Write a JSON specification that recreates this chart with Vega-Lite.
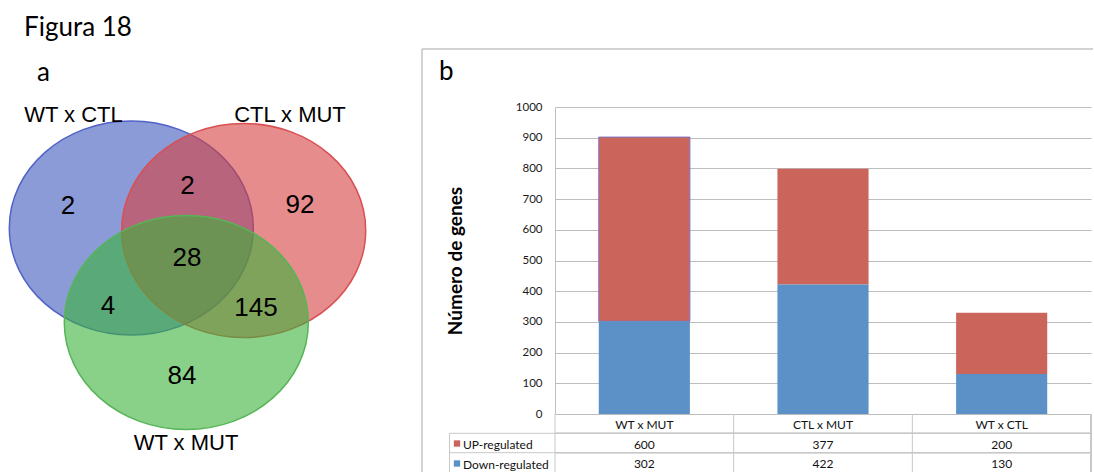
{
  "$schema": "https://vega.github.io/schema/vega-lite/v6.json",
  "background": "white",
  "padding": 0,
  "spacing": 0,
  "bounds": "flush",
  "config": {"view": {"stroke": null}, "font": "Lato"},
  "datasets": {
    "genes": [
      {"cmp": "WT x MUT", "reg": "UP-regulated", "n": 600},
      {"cmp": "WT x MUT", "reg": "Down-regulated", "n": 302},
      {"cmp": "CTL x MUT", "reg": "UP-regulated", "n": 377},
      {"cmp": "CTL x MUT", "reg": "Down-regulated", "n": 422},
      {"cmp": "WT x CTL", "reg": "UP-regulated", "n": 200},
      {"cmp": "WT x CTL", "reg": "Down-regulated", "n": 130}
    ],
    "venn_sets": [
      {"set": "WT x CTL", "cx": 131.3, "cy": 228, "lx": 73.5, "ly": 122},
      {"set": "CTL x MUT", "cx": 243.7, "cy": 230.5, "lx": 290, "ly": 122},
      {"set": "WT x MUT", "cx": 186.3, "cy": 322.5, "lx": 186, "ly": 450}
    ],
    "venn_regions": [
      {"region": "WT x CTL only", "n": 2, "vx": 68, "vy": 214},
      {"region": "WT x CTL & CTL x MUT", "n": 2, "vx": 187.5, "vy": 194},
      {"region": "CTL x MUT only", "n": 92, "vx": 300, "vy": 213},
      {"region": "all three", "n": 28, "vx": 187, "vy": 266},
      {"region": "WT x CTL & WT x MUT", "n": 4, "vx": 108, "vy": 314},
      {"region": "CTL x MUT & WT x MUT", "n": 145, "vx": 256, "vy": 316},
      {"region": "WT x MUT only", "n": 84, "vx": 182, "vy": 384}
    ]
  },
  "hconcat": [
    {
      "width": 555,
      "height": 472,
      "layer": [
        {
          "data": {"values": [{}]},
          "mark": {"type": "rule", "color": "#c4c4c4", "strokeWidth": 1.5},
          "encoding": {
            "x": {"datum": 422, "type": "quantitative", "scale": {"domain": [0, 555], "nice": false, "zero": false}, "axis": null},
            "x2": {"datum": 1093},
            "y": {"datum": 49, "type": "quantitative", "scale": {"domain": [0, 472], "reverse": true, "nice": false, "zero": false}, "axis": null}
          }
        },
        {
          "data": {"values": [{}]},
          "mark": {"type": "rule", "color": "#c4c4c4", "strokeWidth": 1.5},
          "encoding": {
            "x": {"datum": 422, "type": "quantitative", "axis": null},
            "y": {"datum": 49, "type": "quantitative", "axis": null},
            "y2": {"datum": 472}
          }
        },
        {
          "data": {"name": "venn_sets"},
          "mark": {"type": "point", "shape": "M-1,0A1,0.877,0,1,1,1,0A1,0.877,0,1,1,-1,0Z", "size": 59536, "filled": true, "opacity": 1, "fillOpacity": 0.6, "strokeOpacity": 1, "strokeWidth": 1.5},
          "encoding": {
            "x": {"field": "cx", "type": "quantitative", "axis": null},
            "y": {"field": "cy", "type": "quantitative", "axis": null},
            "fill": {"field": "set", "type": "nominal", "scale": {"domain": ["WT x CTL", "CTL x MUT", "WT x MUT"], "range": ["#3d58bd", "#d53f3f", "#3ab23a"]}, "legend": null},
            "stroke": {"field": "set", "type": "nominal", "scale": {"domain": ["WT x CTL", "CTL x MUT", "WT x MUT"], "range": ["#5262c6", "#d94f52", "#56b556"]}, "legend": null}
          }
        },
        {
          "data": {"name": "venn_sets"},
          "mark": {"type": "text", "font": "Liberation Sans", "fontSize": 22, "align": "center", "baseline": "alphabetic", "color": "#000000"},
          "encoding": {
            "x": {"field": "lx", "type": "quantitative", "axis": null},
            "y": {"field": "ly", "type": "quantitative", "axis": null},
            "text": {"field": "set"}
          }
        },
        {
          "data": {"name": "venn_regions"},
          "mark": {"type": "text", "font": "Liberation Sans", "fontSize": 26, "align": "center", "baseline": "alphabetic", "color": "#000000"},
          "encoding": {
            "x": {"field": "vx", "type": "quantitative", "axis": null},
            "y": {"field": "vy", "type": "quantitative", "axis": null},
            "text": {"field": "n"}
          }
        },
        {
          "data": {"values": [{}]},
          "mark": {"type": "text", "font": "Lato", "fontSize": 26, "align": "left", "baseline": "alphabetic", "color": "#000000", "text": "Figura 18"},
          "encoding": {
            "x": {"datum": 24, "type": "quantitative", "axis": null},
            "y": {"datum": 36, "type": "quantitative", "axis": null}
          }
        },
        {
          "data": {"values": [{}]},
          "mark": {"type": "text", "font": "Lato", "fontSize": 26, "align": "left", "baseline": "alphabetic", "color": "#000000", "text": "a"},
          "encoding": {
            "x": {"datum": 37, "type": "quantitative", "axis": null},
            "y": {"datum": 81, "type": "quantitative", "axis": null}
          }
        },
        {
          "data": {"values": [{}]},
          "mark": {"type": "text", "font": "Lato", "fontSize": 26, "align": "left", "baseline": "alphabetic", "color": "#000000", "text": "b"},
          "encoding": {
            "x": {"datum": 439, "type": "quantitative", "axis": null},
            "y": {"datum": 80, "type": "quantitative", "axis": null}
          }
        },
        {
          "data": {"values": [{}]},
          "mark": {"type": "rule", "color": "#c8c8c8", "strokeWidth": 1},
          "encoding": {
            "x": {"datum": 449.5, "type": "quantitative", "axis": null},
            "y": {"datum": 433.3, "type": "quantitative", "axis": null},
            "y2": {"datum": 472}
          }
        },
        {
          "data": {"values": [{}]},
          "mark": {"type": "rule", "color": "#c8c8c8", "strokeWidth": 1},
          "encoding": {
            "x": {"datum": 449.5, "type": "quantitative", "axis": null},
            "x2": {"datum": 555},
            "y": {"datum": 433.3, "type": "quantitative", "axis": null}
          }
        },
        {
          "data": {"values": [{}]},
          "mark": {"type": "rule", "color": "#c8c8c8", "strokeWidth": 1},
          "encoding": {
            "x": {"datum": 449.5, "type": "quantitative", "axis": null},
            "x2": {"datum": 555},
            "y": {"datum": 452.7, "type": "quantitative", "axis": null}
          }
        },
        {
          "data": {"values": [{}]},
          "mark": {"type": "point", "shape": "square", "size": 40, "filled": true, "opacity": 1, "color": "#cb645b"},
          "encoding": {
            "x": {"datum": 457, "type": "quantitative", "axis": null},
            "y": {"datum": 443.5, "type": "quantitative", "axis": null}
          }
        },
        {
          "data": {"values": [{}]},
          "mark": {"type": "point", "shape": "square", "size": 40, "filled": true, "opacity": 1, "color": "#5b91c6"},
          "encoding": {
            "x": {"datum": 457, "type": "quantitative", "axis": null},
            "y": {"datum": 463.5, "type": "quantitative", "axis": null}
          }
        },
        {
          "data": {"values": [{}]},
          "mark": {"type": "text", "font": "Lato", "fontSize": 12, "align": "left", "baseline": "middle", "color": "#111111", "text": "UP-regulated"},
          "encoding": {
            "x": {"datum": 463, "type": "quantitative", "axis": null},
            "y": {"datum": 444.5, "type": "quantitative", "axis": null}
          }
        },
        {
          "data": {"values": [{}]},
          "mark": {"type": "text", "font": "Lato", "fontSize": 12, "align": "left", "baseline": "middle", "color": "#111111", "text": "Down-regulated"},
          "encoding": {
            "x": {"datum": 463, "type": "quantitative", "axis": null},
            "y": {"datum": 464.5, "type": "quantitative", "axis": null}
          }
        }
      ]
    },
    {
      "spacing": 0,
      "bounds": "flush",
      "vconcat": [
        {
          "width": 536,
          "height": 107,
          "data": {"values": [{}]},
          "mark": {"type": "text", "text": ""}
        },
        {
          "width": 536,
          "height": 307,
          "data": {"name": "genes"},
          "mark": {"type": "bar", "width": {"band": 0.51}, "strokeWidth": 1},
          "encoding": {
            "x": {"field": "cmp", "type": "nominal", "sort": ["WT x MUT", "CTL x MUT", "WT x CTL"], "scale": {"type": "band", "paddingInner": 0, "paddingOuter": 0}, "axis": null},
            "y": {"field": "n", "type": "quantitative", "stack": "zero", "scale": {"domain": [0, 1000], "nice": false},
              "axis": {"values": [0, 100, 200, 300, 400, 500, 600, 700, 800, 900, 1000], "format": "d", "title": "Número de genes", "grid": true, "gridColor": "#bdbdbd", "domainColor": "#bdbdbd", "ticks": false, "tickSize": 0, "labelPadding": 13, "labelFont": "Lato", "labelFontSize": 11.5, "labelColor": "#1a1a1a", "titleFont": "Lato", "titleFontSize": 19, "titleFontWeight": "bold", "titleColor": "#000000", "titlePadding": 50}},
            "color": {"field": "reg", "type": "nominal", "scale": {"domain": ["Down-regulated", "UP-regulated"], "range": ["#5b91c6", "#cb645b"]}, "legend": null},
            "stroke": {"condition": {"test": "datum.cmp == 'WT x MUT' && datum.reg == 'UP-regulated'", "value": "#7b72c4"}, "value": null},
            "order": {"field": "reg", "sort": "ascending"}
          }
        },
        {
          "width": 536,
          "height": 58,
          "data": {"name": "genes"},
          "layer": [
            {
              "transform": [{"filter": "datum.reg == 'UP-regulated'"}],
              "mark": {"type": "rule", "color": "#c8c8c8", "strokeWidth": 1},
              "encoding": {
                "x": {"field": "cmp", "type": "nominal", "bandPosition": 0, "sort": ["WT x MUT", "CTL x MUT", "WT x CTL"], "scale": {"type": "band", "paddingInner": 0, "paddingOuter": 0}, "axis": null}
              }
            },
            {
              "mark": {"type": "rule", "color": "#c8c8c8", "strokeWidth": 1},
              "encoding": {
                "x": {"datum": "WT x CTL", "type": "nominal", "bandPosition": 1, "axis": null}
              }
            },
            {
              "mark": {"type": "rule", "color": "#c8c8c8", "strokeWidth": 1},
              "encoding": {
                "y": {"datum": "UP-regulated", "type": "nominal", "bandPosition": 0, "scale": {"type": "band", "domain": ["cat", "UP-regulated", "Down-regulated"], "paddingInner": 0, "paddingOuter": 0}, "axis": null}
              }
            },
            {
              "mark": {"type": "rule", "color": "#c8c8c8", "strokeWidth": 1},
              "encoding": {
                "y": {"datum": "Down-regulated", "type": "nominal", "bandPosition": 0, "axis": null}
              }
            },
            {
              "transform": [{"filter": "datum.reg == 'UP-regulated'"}],
              "mark": {"type": "text", "font": "Lato", "fontSize": 12, "color": "#111111", "dy": 1.5},
              "encoding": {
                "x": {"field": "cmp", "type": "nominal", "sort": ["WT x MUT", "CTL x MUT", "WT x CTL"], "axis": null},
                "y": {"datum": "cat", "type": "nominal", "axis": null},
                "text": {"field": "cmp"}
              }
            },
            {
              "mark": {"type": "text", "font": "Lato", "fontSize": 12, "color": "#111111", "dy": 1.5},
              "encoding": {
                "x": {"field": "cmp", "type": "nominal", "sort": ["WT x MUT", "CTL x MUT", "WT x CTL"], "axis": null},
                "y": {"field": "reg", "type": "nominal", "axis": null},
                "text": {"field": "n"}
              }
            }
          ]
        }
      ]
    }
  ]
}
